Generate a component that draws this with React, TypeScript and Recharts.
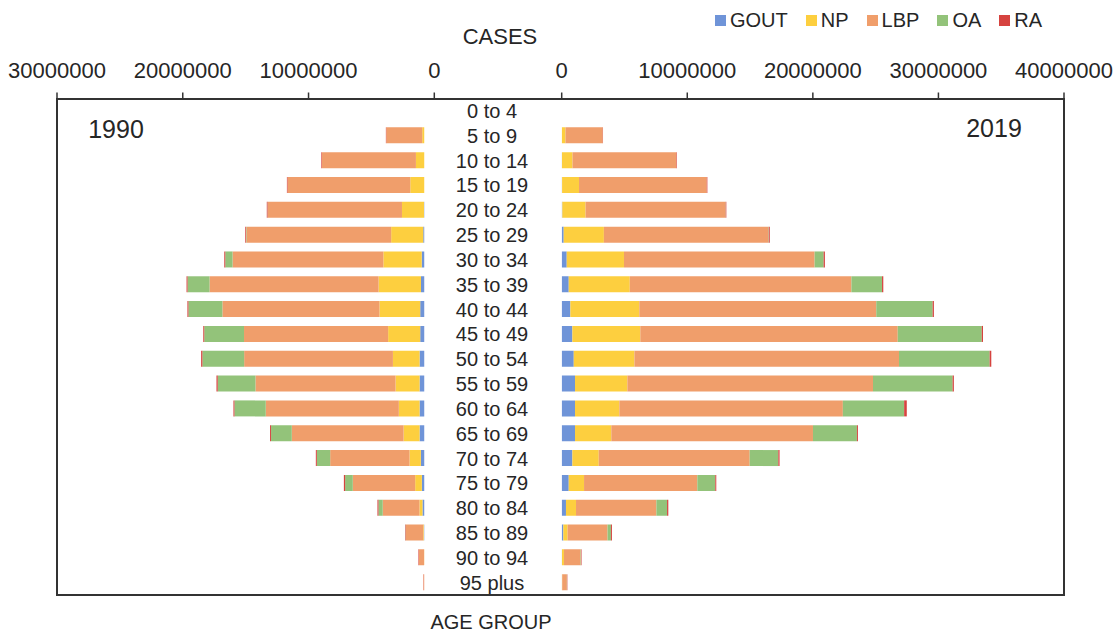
import React from 'react';
import { BarChart, Bar, XAxis, YAxis } from 'recharts';

const ageGroups = [
  '0 to 4', '5 to 9', '10 to 14', '15 to 19', '20 to 24', '25 to 29', '30 to 34',
  '35 to 39', '40 to 44', '45 to 49', '50 to 54', '55 to 59', '60 to 64', '65 to 69',
  '70 to 74', '75 to 79', '80 to 84', '85 to 89', '90 to 94', '95 plus',
];

const seriesNames = ['GOUT', 'NP', 'LBP', 'OA', 'RA'];
const seriesColors = ['#6F94D8', '#FDCF3F', '#F09E6B', '#93C37A', '#D6433F'];

// 1990 cases per age group
const gout1990 = [0, 0, 0, 0, 20000, 80000, 200000, 260000, 320000, 320000, 370000, 370000, 370000, 370000, 270000, 190000, 140000, 30000, 0, 0];
const np1990 = [0, 160000, 660000, 1110000, 1750000, 2550000, 3050000, 3370000, 3240000, 2550000, 2120000, 1910000, 1650000, 1270000, 900000, 530000, 240000, 50000, 10000, 0];
const lbp1990 = [0, 2860000, 7480000, 9760000, 10680000, 11510000, 11990000, 13440000, 12490000, 11460000, 11830000, 11140000, 10580000, 8890000, 6310000, 4960000, 2920000, 1380000, 420000, 60000];
const oa1990 = [0, 0, 0, 0, 10000, 30000, 580000, 1750000, 2700000, 3160000, 3320000, 3000000, 2490000, 1650000, 1060000, 610000, 340000, 20000, 0, 0];
const ra1990 = [0, 30000, 50000, 50000, 60000, 60000, 80000, 80000, 80000, 80000, 100000, 100000, 80000, 80000, 80000, 100000, 80000, 40000, 40000, 20000];

// 2019 cases per age group
const gout2019 = [0, 0, 20000, 30000, 50000, 160000, 400000, 560000, 690000, 850000, 960000, 1060000, 1060000, 1060000, 850000, 560000, 340000, 130000, 20000, 10000];
const np2019 = [0, 300000, 840000, 1350000, 1850000, 3200000, 4560000, 4860000, 5490000, 5410000, 4830000, 4170000, 3530000, 2890000, 2100000, 1220000, 800000, 340000, 160000, 30000];
const lbp2019 = [0, 2970000, 8280000, 10170000, 11150000, 13100000, 15180000, 17650000, 18870000, 20500000, 21070000, 19560000, 17800000, 16060000, 12020000, 9020000, 6400000, 3180000, 1330000, 370000];
const oa2019 = [0, 0, 0, 0, 10000, 30000, 720000, 2440000, 4490000, 6690000, 7220000, 6340000, 4880000, 3500000, 2280000, 1430000, 850000, 270000, 30000, 10000];
const ra2019 = [0, 20000, 40000, 50000, 50000, 80000, 100000, 100000, 100000, 100000, 130000, 100000, 210000, 80000, 100000, 80000, 100000, 80000, 40000, 30000];

const leftTicks = [0, 10000000, 20000000, 30000000];
const rightTicks = [0, 10000000, 20000000, 30000000, 40000000];

const data1990 = ageGroups.map((age, i) => ({
  age, GOUT: gout1990[i], NP: np1990[i], LBP: lbp1990[i], OA: oa1990[i], RA: ra1990[i],
}));
const data2019 = ageGroups.map((age, i) => ({
  age, GOUT: gout2019[i], NP: np2019[i], LBP: lbp2019[i], OA: oa2019[i], RA: ra2019[i],
}));

const FONT = '"Liberation Sans", Arial, sans-serif';
const INK = '#262626';

const label = (text: string, x: number, y: number, size: number): React.ReactNode => (
  <div
    style={{
      position: 'absolute', left: x, top: y, transform: 'translate(-50%, -50%)',
      fontSize: size, lineHeight: 1, color: INK, whiteSpace: 'nowrap',
    }}
  >
    {text}
  </div>
);

export default function App() {
  const tickStyle = { fill: INK, fontSize: 22 };
  const catStyle = { fill: INK, fontSize: 20, textAnchor: 'middle' };
  const tickLineStyle = { stroke: '#333', strokeWidth: 1.5 };

  return (
    <div style={{ position: 'absolute', left: 0, top: 0, width: 1113, height: 631, background: '#fff', fontFamily: FONT }}>
      {/* frame */}
      <div
        style={{
          position: 'absolute', left: 56, top: 98, width: 1009, height: 498,
          border: '2px solid #333', boxSizing: 'border-box',
        }}
      />

      {/* 1990, reversed axis */}
      <div style={{ position: 'absolute', left: 0, top: 0 }}>
        <BarChart
          layout="vertical"
          width={560}
          height={631}
          data={data1990}
          margin={{ top: 68.5, left: 57, right: 125.7, bottom: 36 }}
          barSize={16}
        >
          <XAxis xAxisId="bars" type="number" domain={[-800000, 29200000]} reversed hide allowDataOverflow />
          <XAxis
            xAxisId="scale"
            type="number"
            orientation="top"
            domain={[0, 30000000]}
            ticks={leftTicks}
            interval={0}
            reversed
            allowDataOverflow
            height={30}
            tickSize={6}
            tickMargin={15}
            axisLine={false}
            tickLine={tickLineStyle}
            tick={tickStyle}
          />
          <YAxis type="category" dataKey="age" hide />
          {seriesNames.map((name, i) => (
            <Bar key={name} xAxisId="bars" dataKey={name} stackId="a" fill={seriesColors[i]} isAnimationActive={false} />
          ))}
        </BarChart>
      </div>

      {/* 2019 */}
      <div style={{ position: 'absolute', left: 0, top: 0 }}>
        <BarChart
          layout="vertical"
          width={1113}
          height={631}
          data={data2019}
          margin={{ top: 68.5, left: 424.7, right: 49, bottom: 36 }}
          barSize={16}
        >
          <XAxis
            type="number"
            orientation="top"
            domain={[0, 40000000]}
            ticks={rightTicks}
            interval={0}
            allowDataOverflow
            height={30}
            tickSize={6}
            tickMargin={15}
            axisLine={false}
            tickLine={tickLineStyle}
            tick={tickStyle}
          />
          <YAxis
            type="category"
            dataKey="age"
            width={137}
            interval={0}
            tickSize={0}
            tickMargin={69.7}
            axisLine={false}
            tickLine={false}
            tick={catStyle}
          />
          {seriesNames.map((name, i) => (
            <Bar key={name} dataKey={name} stackId="a" fill={seriesColors[i]} isAnimationActive={false} />
          ))}
        </BarChart>
      </div>

      {label('CASES', 500, 37, 22)}
      {label('1990', 116, 129, 25)}
      {label('2019', 994, 128, 25)}
      {label('AGE GROUP', 491, 622, 20)}

      {/* legend */}
      <div style={{ position: 'absolute', left: 715, top: 10, display: 'flex', gap: 18, alignItems: 'center' }}>
        {seriesNames.map((name, i) => (
          <div key={name} style={{ display: 'flex', alignItems: 'center', fontSize: 20, lineHeight: 1, color: INK }}>
            <span style={{ width: 11, height: 11, background: seriesColors[i], marginRight: 4, display: 'inline-block' }} />
            {name}
          </div>
        ))}
      </div>
    </div>
  );
}
